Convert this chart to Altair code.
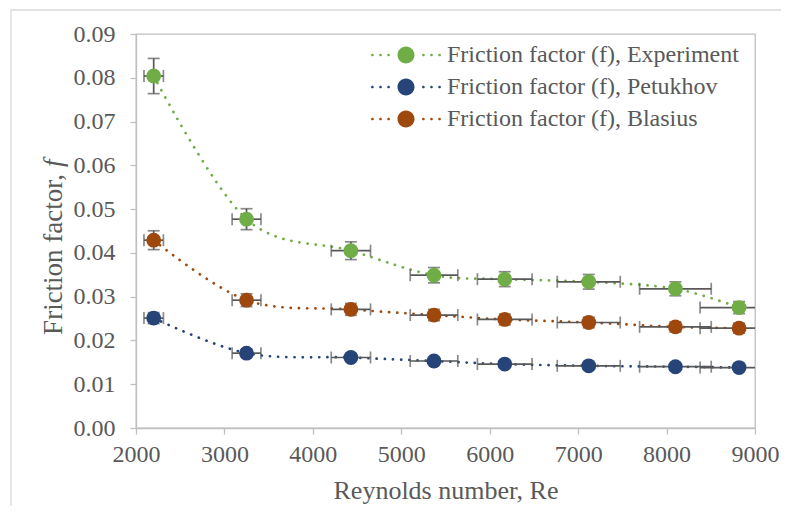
import altair as alt
import pandas as pd

# ---- data ----
re_vals = [2200, 3250, 4430, 5370, 6170, 7120, 8100, 8820]
re_err = [110, 163, 222, 269, 309, 356, 405, 441]

series_names = [
    "Friction factor (f), Experiment",
    "Friction factor (f), Petukhov",
    "Friction factor (f), Blasius",
]
f_experiment = [0.0804, 0.0477, 0.0405, 0.0349, 0.0340, 0.0334, 0.0318, 0.0275]
f_petukhov = [0.0251, 0.0171, 0.0161, 0.0153, 0.0146, 0.0142, 0.0140, 0.0138]
f_blasius = [0.0429, 0.0292, 0.0271, 0.0258, 0.0248, 0.0241, 0.0231, 0.0228]

err_experiment = [0.00402, 0.00239, 0.00203, 0.00175, 0.00170, 0.00167, 0.00159, 0.00138]
err_petukhov = [0.00126, 0.00086, 0.00081, 0.00077, 0.00073, 0.00071, 0.00070, 0.00069]
err_blasius = [0.00215, 0.00146, 0.00136, 0.00129, 0.00124, 0.00121, 0.00116, 0.00114]

colors = ["#70AD47", "#264478", "#9E480E"]
x_ticks = [2000, 3000, 4000, 5000, 6000, 7000, 8000, 9000]
y_ticks = [0.0, 0.01, 0.02, 0.03, 0.04, 0.05, 0.06, 0.07, 0.08, 0.09]

# ---- tables ----
rows = []
for name, fs, es in zip(series_names, [f_experiment, f_petukhov, f_blasius],
                        [err_experiment, err_petukhov, err_blasius]):
    for r, rx, f, e in zip(re_vals, re_err, fs, es):
        rows.append({"series": name, "Re": r, "f": f, "xlo": r - rx, "xhi": r + rx,
                     "ylo": f - e, "yhi": f + e})
df = pd.DataFrame(rows)

ycaps = pd.concat([df.assign(cy=df["ylo"]), df.assign(cy=df["yhi"])])
xcaps = pd.concat([df.assign(cx=df["xlo"]), df.assign(cx=df["xhi"])])

FONT = "Liberation Serif"
TXT = "#595959"
AX = "#BFBFBF"
ERR = "#595959"

xscale = alt.Scale(domain=[2000, 9000], nice=False, zero=False)
yscale = alt.Scale(domain=[0, 0.09], nice=False)
cscale = alt.Scale(domain=series_names, range=colors)

xaxis = alt.Axis(values=x_ticks, format="d", title="Reynolds number, Re",
                 labelFlush=False, labelPadding=8, titlePadding=11,
                 labelFont=FONT, labelFontSize=24, labelColor=TXT)
yaxis = alt.Axis(values=y_ticks, format=".2f", title=None, labelPadding=15,
                 labelFont=FONT, labelFontSize=24, labelColor=TXT)

# custom legend symbol: dotted line with a big dot in the middle
def circ(cx, r):
    return (f"M{cx - r:.3f},0A{r},{r} 0 1,0 {cx + r:.3f},0"
            f"A{r},{r} 0 1,0 {cx - r:.3f},0Z")

sym = circ(0, 1.0) + "".join(circ(x, 0.16) for x in [-3.95, -3.0, -2.05, 2.05, 3.0, 3.95])

legend = alt.Legend(
    title=None, orient="none", legendX=258, legendY=9, symbolType=sym,
    symbolSize=289, symbolStrokeWidth=0, symbolOpacity=1, labelFont=FONT,
    labelFontSize=24, labelColor=TXT, labelOffset=29, rowPadding=8,
    padding=0, labelLimit=400)

base = alt.Chart(df)

lines = base.mark_line(strokeWidth=2.7, strokeDash=[0.1, 8.1], strokeCap="round",
                       interpolate="cardinal").encode(
    x=alt.X("Re:Q", scale=xscale, axis=xaxis),
    y=alt.Y("f:Q", scale=yscale, axis=yaxis),
    color=alt.Color("series:N", scale=cscale, legend=legend),
    detail="series:N",
)

yerr = base.mark_rule(color=ERR, strokeWidth=1.7).encode(
    x=alt.X("Re:Q", axis=xaxis), y=alt.Y("ylo:Q", axis=yaxis), y2="yhi:Q")
xerr = base.mark_rule(color=ERR, strokeWidth=1.7, clip=True).encode(
    x=alt.X("xlo:Q", axis=xaxis), x2="xhi:Q", y=alt.Y("f:Q", axis=yaxis))
ycap = alt.Chart(ycaps).mark_tick(orient="horizontal", color=ERR, size=12, thickness=1.7).encode(
    x=alt.X("Re:Q", axis=xaxis), y=alt.Y("cy:Q", axis=yaxis))
xcap = alt.Chart(xcaps).mark_tick(orient="vertical", color=ERR, size=12, thickness=1.7,
                                  clip=True).encode(
    x=alt.X("cx:Q", axis=xaxis), y=alt.Y("f:Q", axis=yaxis))

points = base.mark_point(filled=True, size=220, opacity=1).encode(
    x=alt.X("Re:Q", axis=xaxis), y=alt.Y("f:Q", axis=yaxis),
    color=alt.Color("series:N", scale=cscale, legend=legend),
)

one = alt.Data(values=[{"a": 1}])
ytitle_a = alt.Chart(one).mark_text(text="Friction factor,", angle=270, align="right",
                                    baseline="middle", font=FONT, fontSize=27,
                                    color=TXT).encode(x=alt.value(-82), y=alt.value(140))
ytitle_b = alt.Chart(one).mark_text(text="f", angle=270, align="left", baseline="middle",
                                    font=FONT, fontSize=27, fontStyle="italic",
                                    color=TXT).encode(x=alt.value(-82), y=alt.value(133))
frame_top = alt.Chart(one).mark_rule(color="#D9D9D9", strokeWidth=1.3).encode(
    x=alt.value(-125), x2=alt.value(700), y=alt.value(-24))
frame_left = alt.Chart(one).mark_rule(color="#D9D9D9", strokeWidth=1.3).encode(
    x=alt.value(-125), y=alt.value(-24), y2=alt.value(600))

chart = alt.layer(frame_top, frame_left, lines, yerr, xerr, ycap, xcap, points,
                  ytitle_a, ytitle_b).properties(
    width=619, height=394,
    background="white",
    autosize=alt.AutoSizeParams(type="none"),
    padding={"left": 128, "top": 26, "right": 26, "bottom": 78},
).configure(font=FONT).configure_view(stroke=AX, strokeWidth=1.3).configure_axis(
    grid=False, labelFont=FONT, titleFont=FONT, labelFontSize=24, titleFontSize=26,
    labelColor=TXT, titleColor=TXT, titleFontWeight="normal", domainColor=AX,
    tickColor=AX, domainWidth=1.3, tickWidth=1.3, tickSize=6,
)

chart.save("out.html", embed_options={"renderer": "svg", "actions": False})
